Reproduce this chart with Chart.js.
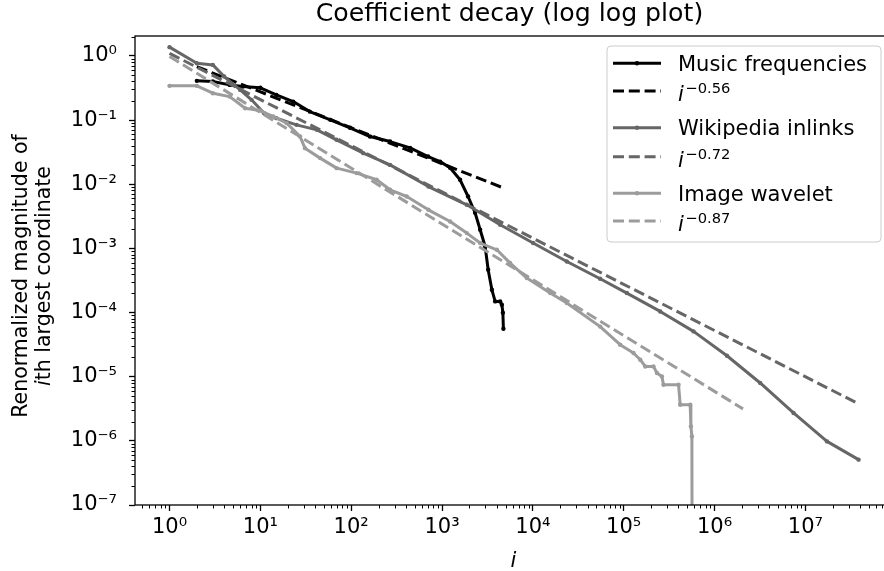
<!DOCTYPE html>
<html><head><meta charset="utf-8">
<script src="https://cdn.jsdelivr.net/npm/chart.js@4"></script>
<style>html,body{margin:0;padding:0;overflow:hidden;background:#fff;width:884px;height:571px}#wrap{width:900px;height:571px}</style>
</head><body><div id="wrap"><canvas id="c" width="900" height="571"></canvas></div>
<script>
// ---- data ----
const musicI = [2,3,4.6,6.4,10,15,23,35,59,97,161,268,445,703,953,1227,1581,1936,2312,2630,2985,3221,3540,3846,4365,4560,4677,4742];
const musicV = [0.408,0.398,0.353,0.333,0.318,0.247,0.194,0.1355,0.1007,0.0757,0.0553,0.0462,0.0369,0.0270,0.0225,0.0180,0.01172,0.00643,0.00359,0.00195,0.00107,4.65e-4,2.26e-4,1.49e-4,1.49e-4,1.32e-4,9.93e-5,5.6e-5];
const musicFitI = [2, 4742];
const musicFitV = [0.678, 0.00874];

const wikiI = [1,2,3,4,6,8,11,15,25,42,69,136,268,708,1875,4365,10070,23660,55080,108400,252400,587500,1.371e6,3.184e6,7.41e6,1.73e7,3.855e7];
const wikiV = [1.368,0.769,0.724,0.476,0.295,0.2065,0.128,0.107,0.0841,0.0703,0.0492,0.0305,0.02,0.0092,0.00478,0.00233,0.00121,6.25e-4,3.36e-4,2.01e-4,1.04e-4,5.08e-5,2.12e-5,7.98e-6,2.72e-6,9.8e-7,5.09e-7];
const wikiFitI = [1, 3.855e7];
const wikiFitV = [1.096, 3.78e-6];

const imageI = [1,2,3,4.6,6.8,9.9,13.9,19.5,27.4,31,45.5,69.3,115,191,268,409,708,1227,1875,2630,4018,5623,8590,15520,23660,55080,91410,128200,152100,172600,212800,232300,263600,274200,401800,418800,539500,549500,563600,572800];
const imageV = [0.341,0.341,0.262,0.232,0.153,0.1406,0.1135,0.0895,0.0553,0.0365,0.0255,0.0178,0.0149,0.01172,0.00818,0.00643,0.00399,0.00262,0.00173,0.00121,9.5e-4,5.9e-4,3.44e-4,2.01e-4,1.41e-4,6.03e-5,3.15e-5,2.34e-5,1.84e-5,1.445e-5,1.445e-5,1.14e-5,1.01e-5,7.5e-6,7.5e-6,3.66e-6,3.66e-6,1.68e-6,1.17e-6,1e-12];
const imageFitI = [1, 2.06e6];
const imageFitV = [0.977, 3.15e-6];

const seriesNames = ['Music frequencies', 'Wikipedia inlinks', 'Image wavelet'];
const fitExponents = ['−0.56', '−0.72', '−0.87'];

const xTickValues = [1,10,100,1000,1e4,1e5,1e6,1e7];
const xTickLabels = ['10⁰','10¹','10²','10³','10⁴','10⁵','10⁶','10⁷'];
const yTickValues = [1,0.1,0.01,0.001,1e-4,1e-5,1e-6,1e-7];
const yTickLabels = ['10⁰','10⁻¹','10⁻²','10⁻³','10⁻⁴','10⁻⁵','10⁻⁶','10⁻⁷'];

const titleText = 'Coefficient decay (log log plot)';
const yTitle1 = 'Renormalized magnitude of';
const yTitle2 = 'th largest coordinate';
const xTitle = 'i';

// ---- styles ----
const FONT = '"DejaVu Sans"';
const C_MUSIC = '#000000', C_WIKI = '#666666', C_IMAGE = '#9c9c9c';
const LW = 3, DASH = [11, 4.8];

function pts(xs, ys){ return xs.map((x,k)=>({x:x, y:ys[k]})); }
function solid(label, xs, ys, color, order){
  return {label, data: pts(xs,ys), borderColor: color, backgroundColor: color, borderWidth: LW,
    pointRadius: 2.2, pointBorderWidth: 0, pointBackgroundColor: color, pointHoverRadius: 0,
    tension: 0, fill: false, order, borderJoinStyle: 'round', borderCapStyle: 'round'};
}
function dashed(label, xs, ys, color, order){
  return {label, data: pts(xs,ys), borderColor: color, borderWidth: LW, borderDash: DASH,
    pointRadius: 0, pointHoverRadius: 0, tension: 0, fill: false, order};
}

const minorTicks = {
  id: 'minorTicks',
  afterDraw(chart){
    const ctx = chart.ctx, a = chart.chartArea, xs = chart.scales.x, ys = chart.scales.y;
    ctx.save();
    ctx.strokeStyle = '#000'; ctx.lineWidth = 1;
    for (let e = -8; e <= 8; e++) for (let k = 2; k <= 9; k++){
      const v = k * Math.pow(10, e);
      if (v > xs.min && v < xs.max){
        const px = Math.round(xs.getPixelForValue(v)) + 0.5;
        ctx.beginPath(); ctx.moveTo(px, a.bottom); ctx.lineTo(px, a.bottom + 3.5); ctx.stroke();
      }
      if (v > ys.min && v < ys.max){
        const py = Math.round(ys.getPixelForValue(v)) + 0.5;
        ctx.beginPath(); ctx.moveTo(a.left, py); ctx.lineTo(a.left - 3.5, py); ctx.stroke();
      }
    }
    ctx.lineWidth = 1.3;
    ctx.strokeRect(a.left, a.top, a.right - a.left, a.bottom - a.top);
    ctx.restore();
  }
};

const texts = {
  id: 'texts',
  afterDraw(chart){
    const ctx = chart.ctx;
    ctx.save();
    ctx.fillStyle = '#000';
    // title
    ctx.font = '25.2px ' + FONT; ctx.textAlign = 'center'; ctx.textBaseline = 'alphabetic';
    ctx.fillText(titleText, 509.5, 21);
    // x title
    ctx.font = 'italic 21px ' + FONT;
    ctx.fillText(xTitle, 513.5, 567);
    // y title (two lines, rotated)
    ctx.save();
    ctx.translate(27, 276); ctx.rotate(-Math.PI/2);
    ctx.font = '20.5px ' + FONT; ctx.textAlign = 'center';
    ctx.fillText(yTitle1, 0, 0);
    ctx.restore();
    ctx.save();
    ctx.translate(50, 276); ctx.rotate(-Math.PI/2);
    ctx.font = 'italic 20.5px ' + FONT; const wi = ctx.measureText('i').width;
    ctx.font = '20.5px ' + FONT; const wr = ctx.measureText(yTitle2).width;
    const start = -(wi + wr)/2;
    ctx.textAlign = 'left';
    ctx.font = 'italic 20.5px ' + FONT; ctx.fillText('i', start, 0);
    ctx.font = '20.5px ' + FONT; ctx.fillText(yTitle2, start + wi, 0);
    ctx.restore();

    // legend
    const x0 = 607, y0 = 46, x1 = 881, y1 = 242, r = 4;
    ctx.beginPath();
    ctx.moveTo(x0 + r, y0); ctx.lineTo(x1 - r, y0); ctx.quadraticCurveTo(x1, y0, x1, y0 + r);
    ctx.lineTo(x1, y1 - r); ctx.quadraticCurveTo(x1, y1, x1 - r, y1);
    ctx.lineTo(x0 + r, y1); ctx.quadraticCurveTo(x0, y1, x0, y1 - r);
    ctx.lineTo(x0, y0 + r); ctx.quadraticCurveTo(x0, y0, x0 + r, y0); ctx.closePath();
    ctx.fillStyle = 'rgba(255,255,255,0.8)'; ctx.fill();
    ctx.strokeStyle = '#cccccc'; ctx.lineWidth = 1; ctx.stroke();
    const colors = [C_MUSIC, C_WIKI, C_IMAGE];
    const rowY = [63.3, 91, 127.7, 156.7, 193.3, 221];
    for (let s = 0; s < 3; s++){
      const ys = rowY[2*s], yd = rowY[2*s+1];
      ctx.strokeStyle = colors[s]; ctx.lineWidth = LW; ctx.setLineDash([]);
      ctx.beginPath(); ctx.moveTo(613, ys); ctx.lineTo(661, ys); ctx.stroke();
      ctx.fillStyle = colors[s]; ctx.beginPath(); ctx.arc(637, ys, 2.2, 0, Math.PI*2); ctx.fill();
      ctx.setLineDash(DASH);
      ctx.beginPath(); ctx.moveTo(613, yd); ctx.lineTo(661, yd); ctx.stroke();
      ctx.setLineDash([]);
      ctx.fillStyle = '#000'; ctx.textAlign = 'left'; ctx.textBaseline = 'alphabetic';
      ctx.font = '21px ' + FONT; ctx.fillText(seriesNames[s], 678, ys + 7.5);
      ctx.font = 'italic 21px ' + FONT; ctx.fillText('i', 678, yd + 10);
      const iw = ctx.measureText('i').width;
      ctx.font = '14.7px ' + FONT; ctx.fillText(fitExponents[s], 678 + iw + 1.5, yd + 2);
    }
    ctx.restore();
  }
};

new Chart(document.getElementById('c'), {
  type: 'line',
  data: { datasets: [
    solid(seriesNames[0], musicI, musicV, C_MUSIC, 6),
    dashed('fit music', musicFitI, musicFitV, C_MUSIC, 5),
    solid(seriesNames[1], wikiI, wikiV, C_WIKI, 4),
    dashed('fit wiki', wikiFitI, wikiFitV, C_WIKI, 3),
    solid(seriesNames[2], imageI, imageV, C_IMAGE, 2),
    dashed('fit image', imageFitI, imageFitV, C_IMAGE, 1)
  ]},
  options: {
    responsive: false, animation: false, devicePixelRatio: 1, events: [],
    layout: { padding: { top: 36, right: 7, bottom: 0, left: 0 } },
    plugins: { legend: { display: false }, title: { display: false }, tooltip: { enabled: false } },
    scales: {
      x: {
        type: 'logarithmic', position: 'bottom', bounds: 'data',
        min: Math.pow(10, -0.38), max: Math.pow(10, 7.965),
        afterBuildTicks: s => { s.ticks = xTickValues.map(v => ({ value: v })); },
        afterFit: s => { s.height = 66; },
        ticks: { callback: (v, i) => xTickLabels[i], font: { family: 'DejaVu Sans', size: 21 }, color: '#000', padding: 4, maxRotation: 0, autoSkip: false },
        grid: { display: true, drawOnChartArea: false, drawTicks: true, tickLength: 6, tickColor: '#000', tickWidth: 1.3 },
        border: { display: false }
      },
      y: {
        type: 'logarithmic', position: 'left', bounds: 'data',
        min: 1e-7, max: Math.pow(10, 0.31),
        afterBuildTicks: s => { s.ticks = yTickValues.map(v => ({ value: v })); },
        afterFit: s => { s.width = 135; },
        ticks: { callback: (v, i) => yTickLabels[i], font: { family: 'DejaVu Sans', size: 21 }, color: '#000', padding: 12, autoSkip: false },
        grid: { display: true, drawOnChartArea: false, drawTicks: true, tickLength: 6, tickColor: '#000', tickWidth: 1.3 },
        border: { display: false }
      }
    }
  },
  plugins: [minorTicks, texts]
});
</script>
</body></html>
